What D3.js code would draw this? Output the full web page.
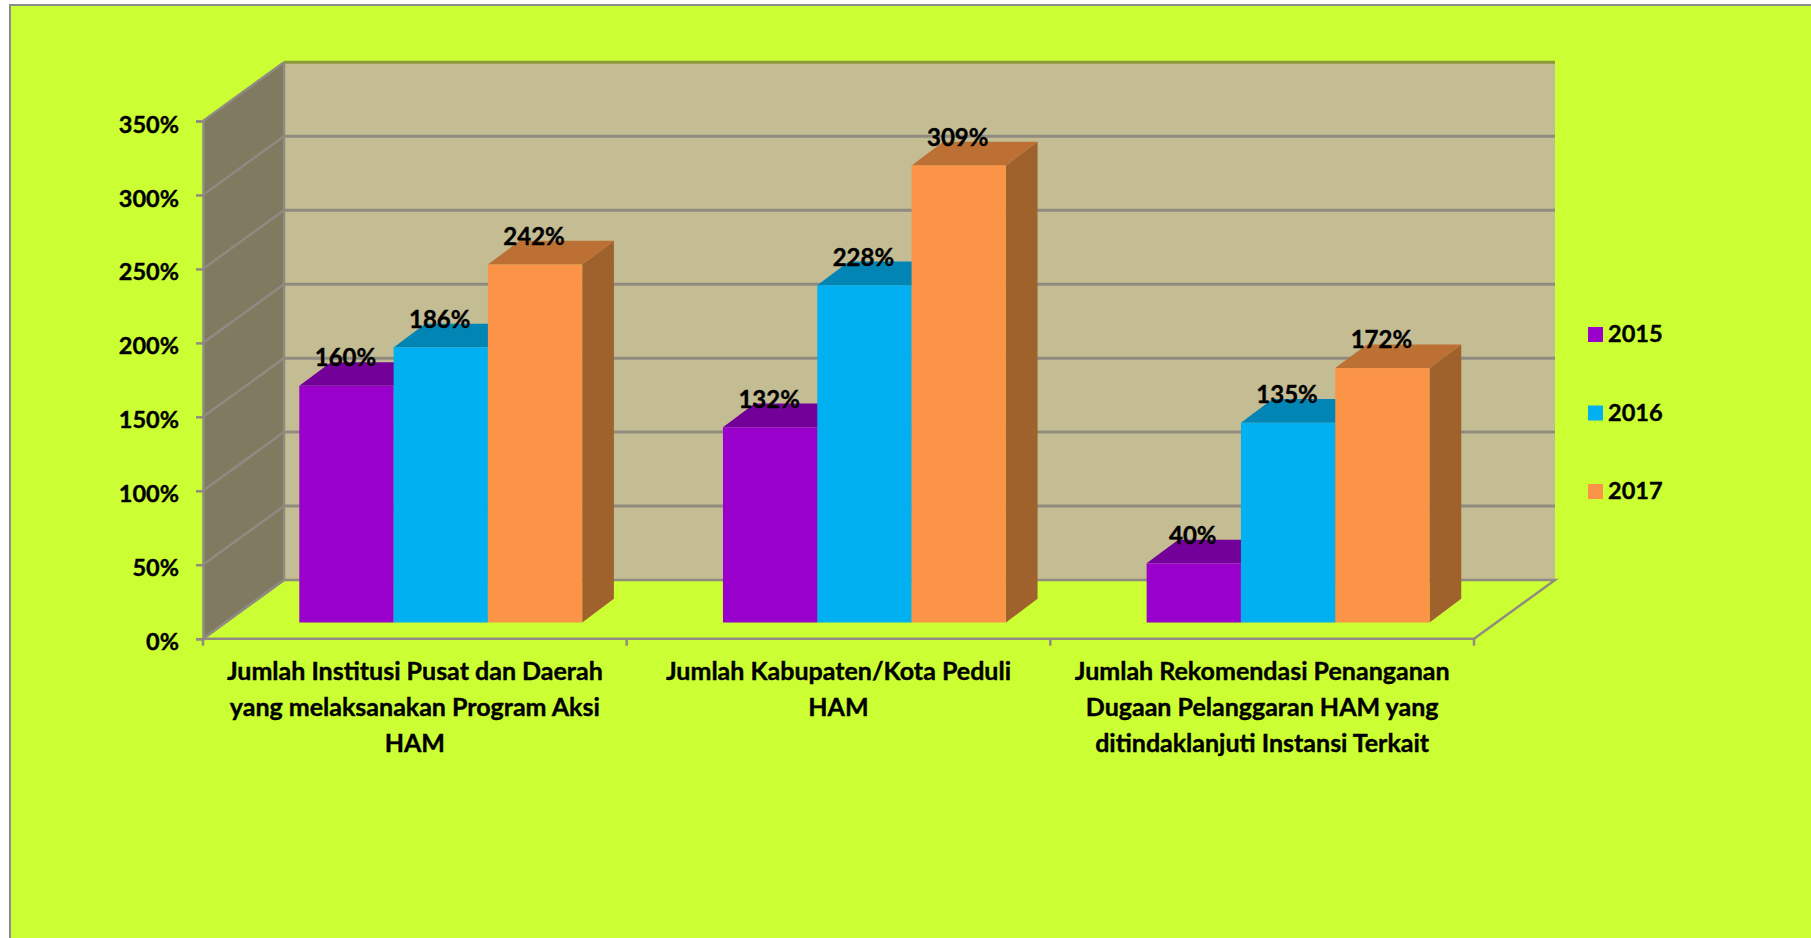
<!DOCTYPE html>
<html>
<head>
<meta charset="utf-8">
<script src="https://cdnjs.cloudflare.com/ajax/libs/d3/7.8.5/d3.min.js"></script>
<style>
html, body { margin: 0; padding: 0; background: #fff; overflow: hidden; }
text { font-family: Lato, "Open Sans", sans-serif; font-weight: 700; fill: #000; stroke: #000; stroke-width: 0.4px; }
</style>
</head>
<body>
<div id="chart"></div>
<script>
var categories = ["Institusi", "Kabupaten", "Rekomendasi"];
var category_lines = [
    ["Jumlah Institusi Pusat dan Daerah", "yang melaksanakan Program Aksi", "HAM"],
    ["Jumlah Kabupaten/Kota Peduli", "HAM"],
    ["Jumlah Rekomendasi Penanganan", "Dugaan Pelanggaran HAM yang", "ditindaklanjuti Instansi Terkait"]
];
var series_names = ["2015", "2016", "2017"];
var values_2015 = [160, 132, 40];
var values_2016 = [186, 228, 135];
var values_2017 = [242, 309, 172];
var y_ticks = [0, 50, 100, 150, 200, 250, 300, 350];
var front_colors = ["#9900cc", "#00b0f0", "#fb9446"];
var top_colors = ["#730099", "#0085b5", "#bd7033"];
var side_colors = ["#66008a", "#00719b", "#a0622c"];

var w = 1811, h = 938;
var svg = d3.select("#chart").append("svg")
    .attr("width", w)
    .attr("height", h)
    .style("display", "block");

// chart area with the grey edge on top and left
svg.append("rect").attr("width", w).attr("height", h).attr("fill", "#fff");
svg.append("rect").attr("x", 10).attr("y", 5).attr("width", w).attr("height", h)
    .attr("fill", "#ccff33").attr("stroke", "#8c8c8c").attr("stroke-width", 2);

var x = d3.scaleBand().domain(categories).range([203, 1474]);
var y = d3.scaleLinear().domain([0, 350]).range([638.7, 121]);

// depth of the 3d box, and of a single bar
var depth_x = 81, depth_y = -58.7;
var bar_w = 94.3, bar_dx = 31.7, bar_dy = -23.7;
var bar_inset = 96.3, bar_base = 16.2;

var line = d3.line();
var grid = "#8f8b80";

// left wall
svg.append("path")
    .attr("d", line([[x.range()[0], y(0)], [x.range()[0] + depth_x, y(0) + depth_y],
        [x.range()[0] + depth_x, y(350) + depth_y], [x.range()[0], y(350)]]) + "Z")
    .attr("fill", "#7f7a60");
// back wall
svg.append("rect")
    .attr("x", x.range()[0] + depth_x)
    .attr("y", y(350) + depth_y)
    .attr("width", x.range()[1] - x.range()[0])
    .attr("height", y(0) - y(350))
    .attr("fill", "#c4bc92");
// floor
svg.append("path")
    .attr("d", line([[x.range()[0], y(0)], [x.range()[1], y(0)],
        [x.range()[1] + depth_x, y(0) + depth_y], [x.range()[0] + depth_x, y(0) + depth_y]]) + "Z")
    .attr("fill", "#ccff33")
    .attr("stroke", grid)
    .attr("stroke-width", 2.5);

// grid lines
var grid_g = svg.append("g");
y_ticks.forEach(function (d) {
    var x0 = x.range()[0];
    if (d > 0) {
        grid_g.append("line")
            .attr("x1", x0 + depth_x).attr("x2", x.range()[1] + depth_x)
            .attr("y1", y(d) + depth_y).attr("y2", y(d) + depth_y)
            .attr("stroke", d == 350 ? "#8d9a3c" : grid)
            .attr("stroke-width", 3);
    }
    grid_g.append("line")
        .attr("x1", x0).attr("x2", x0 + depth_x)
        .attr("y1", y(d)).attr("y2", y(d) + depth_y)
        .attr("stroke", "#8f8b80")
        .attr("stroke-width", 2.5);
});
grid_g.append("line")
    .attr("x1", x.range()[0] + depth_x).attr("x2", x.range()[0] + depth_x)
    .attr("y1", y(350) + depth_y).attr("y2", y(0) + depth_y)
    .attr("stroke", "#8f8b80").attr("stroke-width", 2.5);

// bars
var bar_scale = d3.scaleLinear().domain([0, 350]).range([y(0) - bar_base, y(350) - bar_base]);
[values_2015, values_2016, values_2017].forEach(function (values, s) {
    var g = svg.append("g");
    values.forEach(function (v, i) {
        var x0 = x(categories[i]) + bar_inset + s * bar_w;
        var x1 = x0 + bar_w;
        var y0 = bar_scale(0), y1 = bar_scale(v);
        g.append("path")
            .attr("d", line([[x1, y1], [x1 + bar_dx, y1 + bar_dy], [x1 + bar_dx, y0 + bar_dy], [x1, y0]]) + "Z")
            .attr("fill", side_colors[s]);
        g.append("path")
            .attr("d", line([[x0, y1], [x0 + bar_dx, y1 + bar_dy], [x1 + bar_dx, y1 + bar_dy], [x1, y1]]) + "Z")
            .attr("fill", top_colors[s]);
        g.append("rect")
            .attr("x", x0).attr("y", y1)
            .attr("width", bar_w).attr("height", y0 - y1)
            .attr("fill", front_colors[s]);
    });
});

// data labels go on top of every bar
[values_2015, values_2016, values_2017].forEach(function (values, s) {
    values.forEach(function (v, i) {
        svg.append("text")
            .attr("x", x(categories[i]) + bar_inset + s * bar_w + bar_w / 2 - 1)
            .attr("y", bar_scale(v) - 28)
            .attr("dy", "0.35em")
            .attr("text-anchor", "middle")
            .attr("font-size", 24)
            .text(v + "%");
    });
});

// y axis
var y_axis = d3.axisLeft(y)
    .tickValues(y_ticks)
    .tickSize(7)
    .tickPadding(17)
    .tickFormat(function (d) { return d + "%"; });
var y_g = svg.append("g")
    .attr("transform", "translate(" + x.range()[0] + ",0)")
    .call(y_axis);
y_g.selectAll("line").attr("stroke", grid).attr("stroke-width", 2.5);
y_g.select(".domain").attr("stroke", grid).attr("stroke-width", 2.5);
y_g.selectAll("text")
    .attr("font-size", 23.5)
    .attr("font-family", "Lato")
    .attr("dy", "0.47em");

// x axis ticks sit on the band edges
var x_edges = categories.map(function (c) { return x(c); }).concat([x.range()[1]]);
svg.append("g").selectAll("line")
    .data(x_edges)
    .enter()
    .append("line")
    .attr("x1", function (d) { return d; })
    .attr("x2", function (d) { return d; })
    .attr("y1", y(0))
    .attr("y2", y(0) + 7)
    .attr("stroke", grid)
    .attr("stroke-width", 2.5);

// category labels
category_lines.forEach(function (lines, i) {
    var t = svg.append("text")
        .attr("text-anchor", "middle")
        .attr("font-size", 25);
    lines.forEach(function (l, j) {
        t.append("tspan")
            .attr("x", x(categories[i]) + x.bandwidth() / 2)
            .attr("y", 680 + j * 36)
            .text(l);
    });
});

// legend
var legend_y = d3.scalePoint().domain(series_names).range([334, 491]);
series_names.forEach(function (name, s) {
    svg.append("rect")
        .attr("x", 1588)
        .attr("y", legend_y(name) - 7)
        .attr("width", 15)
        .attr("height", 15)
        .attr("fill", front_colors[s]);
    svg.append("text")
        .attr("x", 1608)
        .attr("y", legend_y(name))
        .attr("dy", "0.35em")
        .attr("font-size", 23.5)
        .text(name);
});
</script>
</body>
</html>
